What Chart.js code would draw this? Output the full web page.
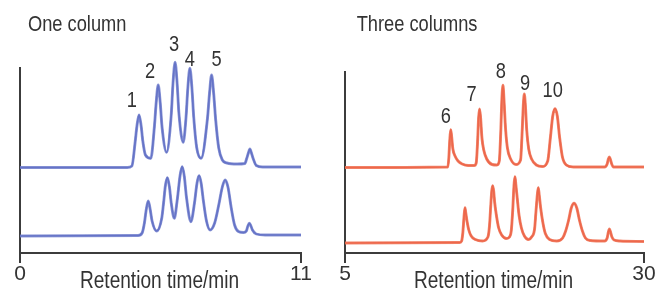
<!DOCTYPE html>
<html><head><meta charset="utf-8">
<script src="https://cdn.jsdelivr.net/npm/chart.js@4.4.1/dist/chart.umd.min.js"></script>
<style>
html,body{margin:0;padding:0;background:#fff;}
#wrap{position:relative;width:657px;height:293px;overflow:hidden;background:#fff;}
.c{position:absolute;top:0;height:293px;}
#c1{left:0;width:330px;} #c2{left:330px;width:327px;}
canvas{display:block;}
</style></head><body>
<div id="wrap">
  <div class="c" id="c1"><canvas id="left" width="330" height="293"></canvas></div>
  <div class="c" id="c2"><canvas id="right" width="327" height="293"></canvas></div>
</div>
<script>
// ---- text ----
const leftTitle = 'One column';
const rightTitle = 'Three columns';
const axisTitle = 'Retention time/min';
// ---- x axis ticks ----
const leftTicks = [0, 11];
const rightTicks = [5, 30];

// ---- One column: upper chromatogram ----
const leftTopTime   = [0, 4.2, 4.38, 4.51, 4.58, 4.66, 4.74, 4.81, 4.91, 5.12, 5.26, 5.33, 5.41, 5.49, 5.56, 5.74, 5.92, 5.99, 6.07, 6.15, 6.22, 6.39, 6.5, 6.57, 6.65, 6.73, 6.8, 6.92, 7.09, 7.34, 7.42, 7.5, 7.58, 7.66, 7.78, 7.92, 8.1, 8.5, 8.8, 8.88, 8.94, 9.0, 9.06, 9.12, 9.25, 9.5, 11];
const leftTopSignal = [85.5, 85.5, 87, 111.5, 127.5, 138, 127.5, 111.5, 98, 94.7, 126, 150, 168, 150, 126, 100.7, 138, 170, 190.7, 170, 140, 110.7, 136, 165, 184.7, 165, 136, 105, 94.7, 135, 160, 178, 160, 133, 105, 93, 90, 89, 89.5, 95, 100, 104, 100, 95, 87.5, 86, 86];
// ---- One column: lower chromatogram ----
const leftBotTime   = [0, 4.62, 4.78, 4.87, 4.94, 5.02, 5.1, 5.17, 5.35, 5.55, 5.62, 5.69, 5.77, 5.85, 5.92, 6.04, 6.15, 6.27, 6.35, 6.43, 6.52, 6.69, 6.83, 6.93, 7.01, 7.09, 7.18, 7.3, 7.44, 7.62, 7.78, 7.92, 8.03, 8.14, 8.27, 8.4, 8.55, 8.75, 8.86, 8.92, 8.98, 9.04, 9.1, 9.25, 9.6, 11];
const leftBotSignal = [17, 17.5, 20, 30, 43, 52, 43, 32, 22, 35, 50, 67, 75.3, 66, 50, 34.7, 52, 78, 86.3, 77, 55, 31.3, 50, 70, 77.3, 70, 52, 32, 23, 30, 48, 66, 73, 66, 45, 28, 21.5, 20.5, 22, 27, 29.7, 27, 23, 19, 18, 18];

// ---- Three columns: upper chromatogram ----
const rightTopTime   = [5, 13.6, 13.68, 13.76, 13.84, 13.92, 14.02, 14.2, 14.45, 14.8, 15.3, 15.8, 15.97, 16.08, 16.17, 16.25, 16.34, 16.45, 16.6, 16.85, 17.3, 17.7, 17.9, 18.02, 18.12, 18.21, 18.3, 18.42, 18.58, 18.85, 19.3, 19.68, 19.8, 19.91, 19.99, 20.08, 20.2, 20.36, 20.6, 21.0, 21.5, 21.95, 22.17, 22.37, 22.56, 22.75, 22.95, 23.18, 23.5, 24.1, 26.7, 26.92, 27.02, 27.1, 27.18, 27.3, 27.45, 30];
const rightTopSignal = [85.5, 86, 95, 113, 123.3, 116, 104, 97, 92, 89, 87.5, 87.5, 90, 110, 135, 144, 135, 115, 103, 94, 88.5, 88, 92, 120, 155, 167.7, 152, 125, 105, 94, 88.5, 93, 118, 148, 159, 148, 122, 104, 94, 88, 86.5, 92, 115, 137, 144.3, 137, 115, 96, 88, 86, 86, 89, 94, 96, 94, 89, 86, 86];
// ---- Three columns: lower chromatogram ----
const rightBotTime   = [5, 14.6, 14.75, 14.85, 14.95, 15.03, 15.1, 15.2, 15.35, 15.55, 15.9, 16.5, 16.95, 17.08, 17.2, 17.27, 17.35, 17.43, 17.52, 17.68, 17.85, 18.1, 18.5, 18.75, 18.9, 19.02, 19.13, 19.21, 19.29, 19.4, 19.55, 19.75, 20.0, 20.35, 20.6, 20.85, 20.97, 21.08, 21.16, 21.24, 21.36, 21.55, 21.75, 22.1, 22.7, 23.2, 23.45, 23.7, 23.92, 24.15, 24.38, 24.6, 24.85, 25.1, 25.5, 26.7, 26.92, 27.02, 27.11, 27.2, 27.32, 27.5, 28, 30];
const rightBotSignal = [10, 10.5, 12, 20, 36, 45.3, 40, 32, 23, 17, 13.5, 12, 16, 27, 50, 62, 67.3, 62, 50, 36, 25, 18, 14.5, 16, 22, 42, 68, 76.3, 68, 55, 38, 25, 17, 13.5, 16, 24, 42, 58, 65.3, 58, 45, 30, 19.5, 13.5, 12, 15, 22, 33, 45, 49.7, 45, 33, 22, 15, 12.5, 12, 15, 21, 24, 21, 16, 13, 12, 11.5];

// ---- peak numbers ----
const leftPeakNames = ['1', '2', '3', '4', '5'];
const leftPeakLabelTime = [4.38, 5.09, 6.03, 6.65, 7.70];
const leftPeakLabelLevel = [152.5, 181.3, 208, 193.5, 193.5];
const rightPeakNames = ['6', '7', '8', '9', '10'];
const rightPeakLabelTime = [13.44, 15.59, 18.02, 20.05, 22.37];
const rightPeakLabelLevel = [136.3, 158.5, 181, 169.3, 162.2];

// ---- styling ----
const FONT = "'Liberation Sans', Arial, sans-serif";
const TEXT = '#333333';
const AXIS = '#3c3c3c';
const NARROW = 0.83; // condensed look of the original lettering

const pts = (t, s) => t.map((v, i) => ({x: v, y: s[i]}));

function narrowText(ctx, txt, x, y) {
  ctx.fillText(txt, x, y, ctx.measureText(txt).width * NARROW);
}

const annotPlugin = {
  id: 'annot',
  afterDatasetsDraw(chart, args, o) {
    const ctx = chart.ctx, xs = chart.scales.x, ys = chart.scales.y, ca = chart.chartArea;
    ctx.save();
    ctx.fillStyle = TEXT;
    ctx.font = '22px ' + FONT;
    ctx.textAlign = 'center';
    ctx.textBaseline = 'middle';
    o.names.forEach((n, i) => narrowText(ctx, n, xs.getPixelForValue(o.times[i]), ys.getPixelForValue(o.levels[i])));
    ctx.textAlign = 'left';
    narrowText(ctx, o.title, o.titleX, o.titleY);
    ctx.textAlign = 'center';
    ctx.font = '23px ' + FONT;
    narrowText(ctx, o.axisTitle, (ca.left + ca.right) / 2 - 1, o.axisTitleY);
    ctx.restore();
  }
};

function traceSets(time, sig, halo, core) {
  const d = pts(time, sig);
  return [
    {data: d, borderColor: halo, borderWidth: 2.9, pointRadius: 0, cubicInterpolationMode: 'monotone', clip: false},
    {data: d, borderColor: core, borderWidth: 1.7, pointRadius: 0, cubicInterpolationMode: 'monotone', clip: false}
  ];
}

function makeChart(id, cfg) {
  return new Chart(document.getElementById(id), {
    type: 'line',
    data: {datasets: [
      ...traceSets(cfg.topT, cfg.topS, cfg.halo, cfg.core),
      ...traceSets(cfg.botT, cfg.botS, cfg.halo, cfg.core)
    ]},
    options: {
      responsive: false,
      animation: false,
      devicePixelRatio: 1,
      layout: {padding: cfg.padding},
      plugins: {
        legend: {display: false},
        tooltip: {enabled: false},
        annot: {names: cfg.names, times: cfg.lt, levels: cfg.ll, title: cfg.title, titleX: cfg.titleX, titleY: 24.5,
                axisTitle: axisTitle, axisTitleY: 281.5}
      },
      scales: {
        x: {
          type: 'linear', min: cfg.ticks[0], max: cfg.ticks[1],
          afterBuildTicks: s => { s.ticks = cfg.ticks.map(v => ({value: v})); },
          afterFit: s => { s.height = 40; },
          grid: {display: true, drawOnChartArea: false, drawTicks: true, tickLength: 10, color: AXIS, lineWidth: 2},
          border: {display: true, color: AXIS, width: 2},
          ticks: {color: TEXT, font: {family: FONT, size: 21, lineHeight: 1}, padding: 1, maxRotation: 0, autoSkip: false},
          title: {display: false, text: axisTitle}
        },
        y: {
          min: 0, max: cfg.ymax,
          afterFit: s => { s.width = 0; },
          ticks: {display: false},
          grid: {display: false},
          border: {display: true, color: AXIS, width: 2}
        }
      }
    },
    plugins: [annotPlugin]
  });
}

makeChart('left', {
  topT: leftTopTime, topS: leftTopSignal, botT: leftBotTime, botS: leftBotSignal,
  halo: 'rgba(112,126,205,0.8)', core: '#3749ad',
  names: leftPeakNames, lt: leftPeakLabelTime, ll: leftPeakLabelLevel,
  title: leftTitle, titleX: 28, ticks: leftTicks, ymax: 185,
  padding: {left: 20, right: 29, top: 68, bottom: 0}
});
makeChart('right', {
  topT: rightTopTime, topS: rightTopSignal, botT: rightBotTime, botS: rightBotSignal,
  halo: 'rgba(240,115,85,0.85)', core: '#de2418',
  names: rightPeakNames, lt: rightPeakLabelTime, ll: rightPeakLabelLevel,
  title: rightTitle, titleX: 26.7, ticks: rightTicks, ymax: 181,
  padding: {left: 15, right: 13, top: 72, bottom: 0}
});
</script>
</body></html>
